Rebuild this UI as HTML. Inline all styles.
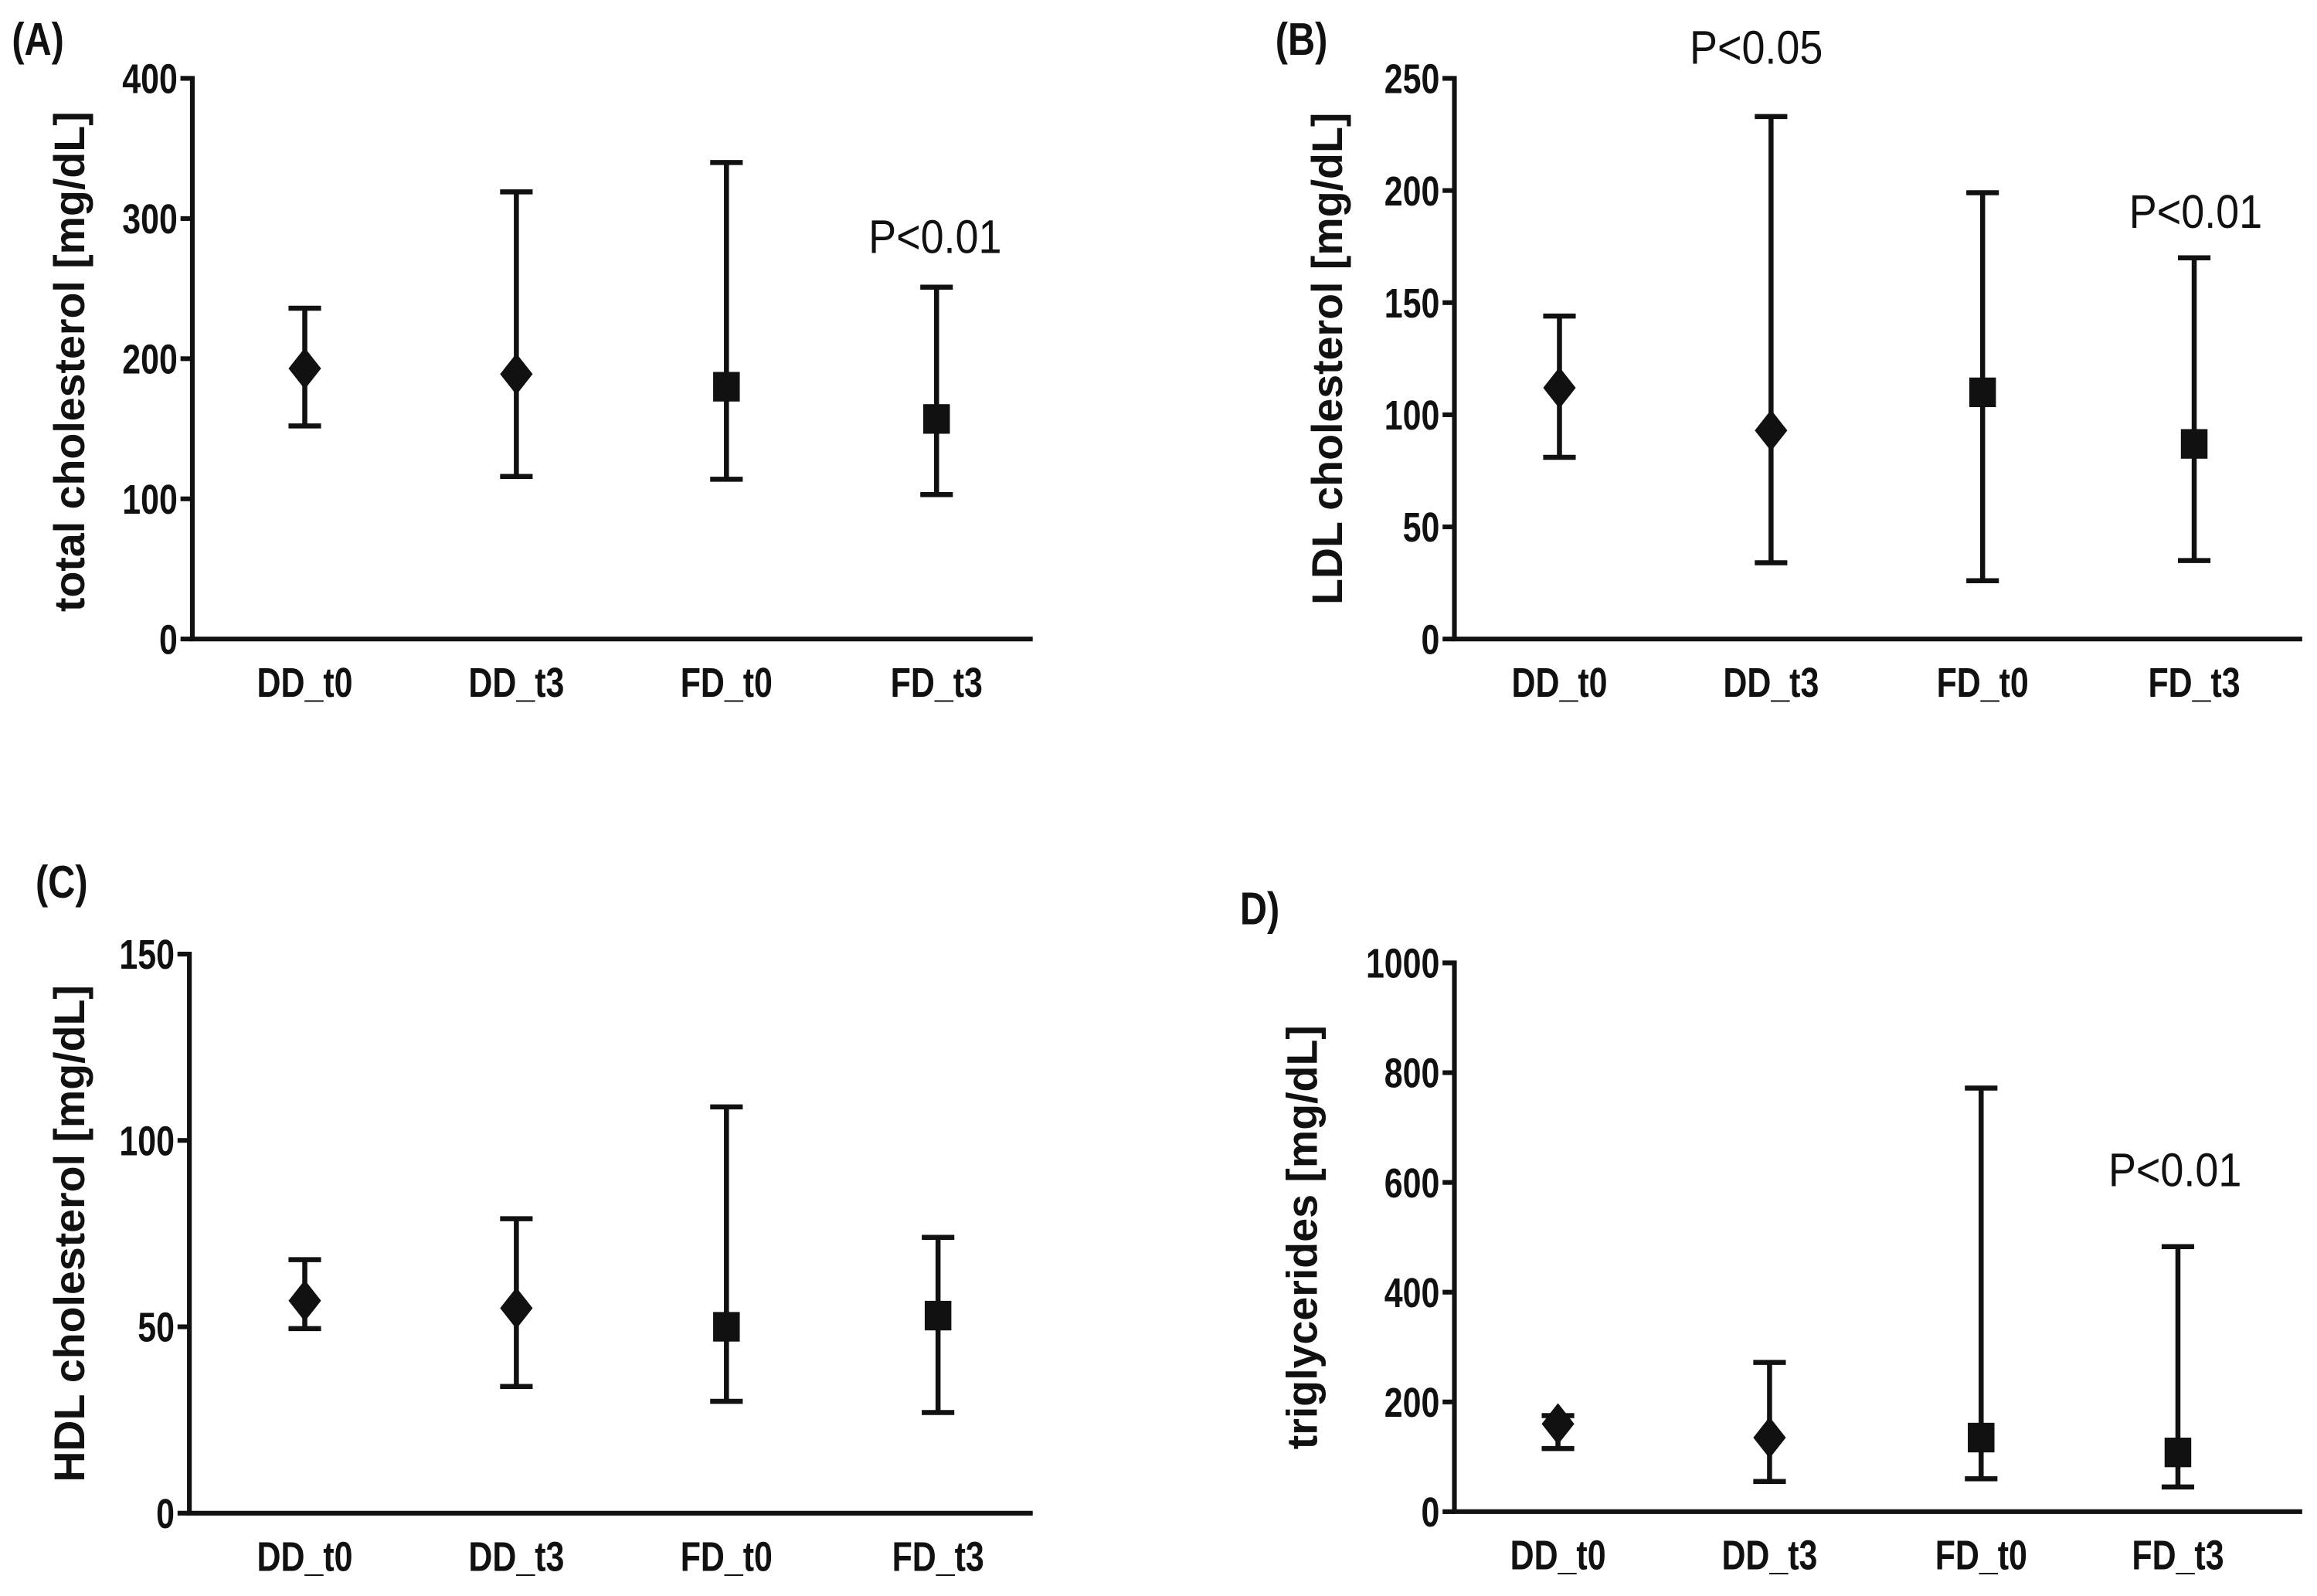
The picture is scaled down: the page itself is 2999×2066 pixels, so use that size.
<!DOCTYPE html>
<html><head><meta charset="utf-8"><style>
html,body{margin:0;padding:0;background:#fff;}
svg{display:block;}
.tick{font-family:"Liberation Sans",sans-serif;font-weight:bold;font-size:28px;fill:#111;}
.cat{font-family:"Liberation Sans",sans-serif;font-weight:bold;font-size:28px;fill:#111;}
.ttl{font-family:"Liberation Sans",sans-serif;font-weight:bold;font-size:29px;fill:#111;}
.pl{font-family:"Liberation Sans",sans-serif;font-weight:bold;font-size:31px;fill:#111;}
.pv{font-family:"Liberation Sans",sans-serif;font-size:32px;fill:#111;}
</style></head><body>
<svg id="fig" width="2999" height="2066" viewBox="0 0 1566 1079" preserveAspectRatio="none" xmlns="http://www.w3.org/2000/svg"></svg>
<script>
const categories = ["DD_t0","DD_t3","FD_t0","FD_t3"];
const markers = ["diamond","diamond","square","square"];
const aMean = [193,189,180,157];
const aHigh = [236,319,340,251];
const aLow = [152,116,114,103];
const aTicks = [0,100,200,300,400];
const bMean = [112,93,110,87];
const bHigh = [144,233,199,170];
const bLow = [81,34,26,35];
const bTicks = [0,50,100,150,200,250];
const cMean = [57,55,50,53];
const cHigh = [68,79,109,74];
const cLow = [49.5,34,30,27];
const cTicks = [0,50,100,150];
const dMean = [160,135,135,108];
const dHigh = [175,272,772,483];
const dLow = [115,55,60,45];
const dTicks = [0,200,400,600,800,1000];

const NS="http://www.w3.org/2000/svg";
const svg=document.getElementById('fig');
function mk(tag,attrs,parent){const e=document.createElementNS(NS,tag);for(const k in attrs)e.setAttribute(k,attrs[k]);(parent||svg).appendChild(e);return e;}
function ntext(x,y,anchor,cls,sx,parent){return mk('text',{x:0,y:0,'text-anchor':anchor,class:cls,transform:`translate(${x},${y}) scale(${sx},1)`},parent);}

function panel(cfg){
  const g=mk('g',{});
  
  
  const max=cfg.ticks[cfg.ticks.length-1];
  const y=v=>cfg.y0-(v/max)*(cfg.y0-cfg.yTop);
  const x=i=>cfg.cx[i];
  const ax=mk('path',{d:`M${cfg.ax-8},${cfg.yTop}H${cfg.ax}V${cfg.y0}H${cfg.xEnd}`,fill:'none',stroke:'#111','stroke-width':3.2},g);
  
  
  cfg.ticks.forEach(t=>{
    mk('line',{x1:cfg.ax-8,x2:cfg.ax,y1:y(t),y2:y(t),stroke:'#111','stroke-width':3.2},g);
    const tx=ntext(cfg.ax-10,y(t)+10,'end','tick',0.8,g);
    tx.textContent=t;
    
    
  });
  categories.forEach((c,i)=>{
    const tx=ntext(x(i),cfg.y0+39,'middle','cat',0.8,g);
    tx.textContent=c;
    
    
    const hi=y(cfg.high[i]),lo=y(cfg.low[i]),m=y(cfg.mean[i]);
    const eb=mk('path',{d:`M${x(i)},${hi}V${lo}M${x(i)-11},${hi}H${x(i)+11}M${x(i)-11},${lo}H${x(i)+11}`,stroke:'#111','stroke-width':3.4,fill:'none'},g);
    
    
    let mkEl;
    if(markers[i]==='diamond') mkEl=mk('path',{d:`M${x(i)},${m-14}L${x(i)+11},${m}L${x(i)},${m+14}L${x(i)-11},${m}Z`,fill:'#111'},g);
    else mkEl=mk('rect',{x:x(i)-9,y:m-10,width:18,height:20,fill:'#111'},g);
    
    
  });
  const tt=mk('text',{x:0,y:0,'text-anchor':'middle',class:'ttl',transform:`translate(${cfg.tx},${(cfg.yTop+cfg.y0)/2+cfg.tdy}) rotate(-90)`},g);
  tt.textContent=cfg.title;
  
  
  const pl=ntext(cfg.lx,cfg.ly,'start','pl',0.82,g);
  pl.textContent=cfg.label;
  
  
  cfg.pvals.forEach(p=>{
    const t=ntext(p[0],p[1],'middle','pv',0.88,g);
    t.textContent=p[2];
    
    
  });
}
panel({id:'a',ax:130,xEnd:698,yTop:53,y0:432,cx:[206,349,491,633],ticks:aTicks,mean:aMean,high:aHigh,low:aLow,title:'total cholesterol [mg/dL]',tx:57,tdy:2,label:'(A)',lx:8,ly:37,pvals:[[632,171,'P<0.01']]});
panel({id:'b',ax:983,xEnd:1556,yTop:53,y0:432,cx:[1054,1197,1340,1483],ticks:bTicks,mean:bMean,high:bHigh,low:bLow,title:'LDL cholesterol [mg/dL]',tx:907,tdy:0,label:'(B)',lx:862,ly:37,pvals:[[1187,43,'P<0.05'],[1484,154,'P<0.01']]});
panel({id:'c',ax:128,xEnd:698,yTop:645,y0:1023,cx:[206,349,491,634],ticks:cTicks,mean:cMean,high:cHigh,low:cLow,title:'HDL cholesterol [mg/dL]',tx:57,tdy:0,label:'(C)',lx:24,ly:607,pvals:[]});
panel({id:'d',ax:983,xEnd:1556,yTop:651,y0:1022,cx:[1053,1196,1339,1472],ticks:dTicks,mean:dMean,high:dHigh,low:dLow,title:'triglycerides [mg/dL]',tx:890,tdy:0,label:'D)',lx:838,ly:625,pvals:[[1470,802,'P<0.01']]});
</script>
</body></html>
